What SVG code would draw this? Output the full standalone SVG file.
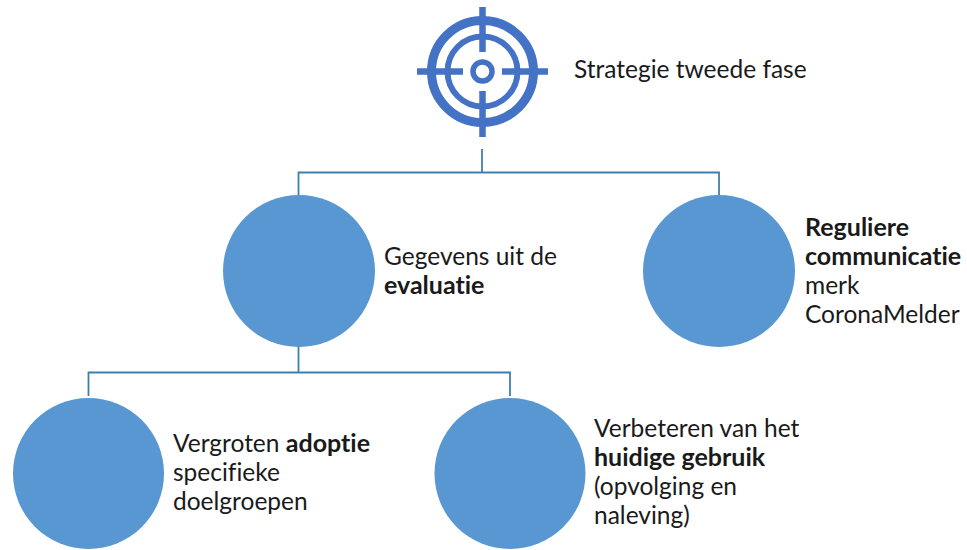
<svg xmlns="http://www.w3.org/2000/svg" width="967" height="550" viewBox="0 0 967 550">
<style>
.c{fill:#5897d1}
.l{fill:none;stroke:#3f7fae;stroke-width:1.8}
.t{font-family:"Lato","Liberation Sans",sans-serif;font-size:24.500px;font-variant-ligatures:none;fill:#1a1a1a}
.b{font-weight:700;font-size:25px}
.i{fill:none;stroke:#4472c4}
</style>
<rect width="967" height="550" fill="#fff"/>
<g id="connectors">
<path class="l" d="M482 149V172.500M298.500 195V172.500H719V195"/>
<path class="l" d="M298.500 347V372.500M88.500 396V372.500H510V396"/>
</g>
<g id="target">
<circle class="i" stroke-width="9" cx="482.500" cy="71.500" r="51"/>
<circle class="i" stroke-width="6" cx="482.500" cy="71.500" r="35"/>
<circle class="i" stroke-width="5.500" cx="482.500" cy="71.500" r="9.500"/>
<path class="i" stroke-width="6.500" d="M482.500 7V52M482.500 91V137M417 71.500H463M502 71.500H548"/>
<text class="t" x="574" y="78">Strategie tweede fase</text>
</g>
<g id="evaluatie">
<circle class="c" cx="299" cy="271" r="76"/>
<text class="t" x="384" y="265">Gegevens uit de</text>
<text class="t b" x="384" y="294">evaluatie</text>
</g>
<g id="communicatie">
<circle class="c" cx="719" cy="271" r="76"/>
<text class="t b" x="805" y="236">Reguliere</text>
<text class="t b" x="805" y="265">communicatie</text>
<text class="t" x="805" y="294">merk</text>
<text class="t" x="805" y="323">CoronaMelder</text>
</g>
<g id="adoptie">
<circle class="c" cx="88.500" cy="473.500" r="75.500"/>
<text class="t" x="173" y="452">Vergroten <tspan class="b">adoptie</tspan></text>
<text class="t" x="173" y="481">specifieke</text>
<text class="t" x="173" y="510">doelgroepen</text>
</g>
<g id="gebruik">
<circle class="c" cx="510" cy="473.500" r="75.500"/>
<text class="t" x="594" y="437">Verbeteren van het</text>
<text class="t b" x="594" y="466">huidige gebruik</text>
<text class="t" x="594" y="495">(opvolging en</text>
<text class="t" x="594" y="524">naleving)</text>
</g>
</svg>
